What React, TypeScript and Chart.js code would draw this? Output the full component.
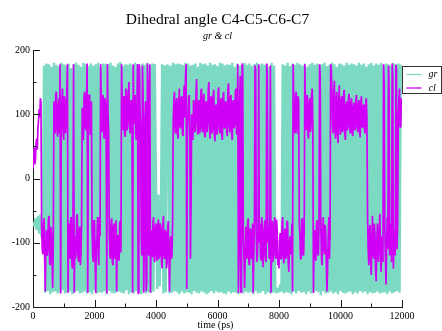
import { useEffect, useRef } from "react";
import { Chart, registerables } from "chart.js";

Chart.register(...registerables);

const TITLE = "Dihedral angle C4-C5-C6-C7";
const SUBTITLE = "gr & cl";
const X_LABEL = "time (ps)";
const SERIES_NAMES = ["gr", "cl"];
const GR_STEP_PS = 40;
const CL_STEP_PS = 20;
const X_MAJOR_TICKS = [0, 2000, 4000, 6000, 8000, 10000, 12000];
const X_MINOR_TICKS = [1000, 3000, 5000, 7000, 9000, 11000];
const Y_MAJOR_TICKS = [-200, -100, 0, 100, 200];
const Y_MINOR_TICKS = [-150, -50, 50, 150];

// dihedral angle (deg) of set "gr", one value every 40 ps
const grAngle = [
  -68, -74, -62, -80, -58, -86, -56, -92, -60, 176, -178, 179, -175, 178, -180, 174, -177, 180, -176, 177,
  -179, 175, -177, 180, -174, 178, -179, 176, -178, 179, -176, 172, -180, 178, -177, 180, -175, 177, -179, 174,
  -178, 180, -176, 178, -179, 175, -177, 179, -180, 176, -174, 178, -179, 180, -177, 173, -178, 179, -176, 177,
  -180, 178, -175, 180, -178, 176, -179, 174, -177, 179, -176, 180, -178, 175, -179, 178, -174, 177, -180, 179,
  -177, 176, -179, 180, -175, 178, -178, 174, -180, 179, -176, 177, -179, 180, -177, 175, -178, 179, -176, 178,
  -15, -172, -25, -168, -55, 178, -179, 176, -177, 177, 174, -179, 176, -178, 180, -175, 178, -177, 179, -180,
  178, -176, 175, -179, 180, -177, 179, -178, 176, -180, 177, -175, 179, -178, 174, -179, 180, -176, 178, -177,
  179, -180, 176, -178, 180, -175, 177, -179, 178, -176, 175, -178, 180, -177, 179, -179, 176, -180, 178, -176,
  177, -179, 180, -177, 174, -178, 179, -180, 176, -175, 178, -179, 180, -176, 177, -178, 179, -177, 175, -180,
  178, -176, 180, -179, 176, -178, 179, -175, 177, -180, 178, -177, 174, -179, 180, -178, 176, -174, -178, -170,
  -177, -165, -176, 178, -179, 176, -177, 180, -178, 175, -180, 179, -176, 177, -179, 180, -175, 178, -178, 176,
  -177, 179, -180, 174, -176, 178, -179, 180, -178, 177, -175, 179, -177, 176, -180, 178, -176, 180, -179, 175,
  -178, 177, -176, 180, -179, 178, -177, 174, -180, 179, -175, 178, -178, 176, -179, 180, -177, 177, -176, 179,
  -180, 178, -177, 176, -179, 180, -175, 177, -178, 179, -176, 174, -180, 178, -177, 180, -179, 176, -178, 179,
  -176, 177, -179, 180, -178, 175, -177, 179, -180, 178, -176, 176, -179, 180, -177, 178, -175, 179, -178, 177,
];

// dihedral angle (deg) of set "cl", one value every 20 ps
const clAngle = [
  15, 35, 48, 22, 30, 55, 62, 45, 78, 90, 108, 95, 125, 118, -75, -110, -118, -70, -62, -125,
  -176, -95, -80, -120, -110, -65, -58, -130, -135, -75, -85, -125, -170, -100, 120, 80, 70, 130, 135, 75,
  65, 110, 125, 70, 178, -179, 80, 120, 140, 75, 60, 128, 118, 70, 95, 135, 178, -178, -70, -115,
  -125, -68, -60, -130, -140, -85, 178, -178, -90, -125, -115, -62, -55, -120, -130, -80, -75, -135, -120, -70,
  110, 72, 60, 128, 135, 80, 75, 122, 179, -178, 90, 130, 130, 70, 68, 120, -72, -118, -130, -66,
  -65, -125, -178, -100, -95, -60, -120, -135, -60, -90, 178, 120, 72, 130, 128, 65, 62, 125, 118, 70,
  -179, 178, 100, 70, -80, -120, -125, -68, -62, -130, -135, -75, -70, -125, -118, -65, -176, -100, -88, -122,
  -128, -70, -66, -115, 178, 120, 75, 125, 128, 68, 65, 140, 135, 75, 80, 130, 150, 90, 70, 118,
  122, 75, -178, 178, 85, 125, 130, 70, 60, 115, 178, -179, -179, 178, 110, 80, -90, -120, 176, 130,
  -178, -100, 95, 120, -175, -160, 179, 150, -120, -90, 178, -178, -80, -120, -122, -70, -60, -125, -130, -75,
  -70, -118, -128, -72, -64, -125, -118, -70, -78, -130, -140, -75, -58, -118, -125, -80, -85, -140, -132, -75,
  -66, -120, -176, -110, -90, -125, -120, -70, 90, 120, 135, 75, 70, 118, 125, 68, 62, 120, 140, 85,
  78, 125, 128, 70, 66, 130, 145, 95, 160, 178, -172, 60, 95, 125, 130, 80, -125, -40, 100, 70,
  60, 122, 118, 72, 75, 130, 155, 90, 68, 118, 122, 70, 80, 135, 140, 75, 72, 125, 132, 68,
  64, 118, 120, 72, 85, 140, 150, 80, 62, 125, 128, 70, 76, 132, 138, 66, 58, 112, 115, 68,
  82, 135, 142, 75, 70, 120, 125, 66, 60, 128, 135, 80, 78, 120, 118, 72, 66, 140, 148, 85,
  72, 125, 130, 70, 60, 118, 122, 78, 85, 135, 140, 72, 68, 178, -178, -120, 120, 160, -176, -178,
  179, 175, -90, -120, -170, -130, -75, -118, -125, -68, -62, -130, -135, -78, -80, -125, -118, -70, -178, -120,
  -70, 176, 170, -85, -130, -120, -70, 178, -100, -70, -120, -128, -60, -75, -138, -120, -82, -65, -120, -130,
  179, 160, -100, -75, -125, -118, 176, -178, -90, -66, -130, -122, -72, -60, -118, -125, -64, -80, -135, -118,
  -140, -95, -85, -125, -125, -70, -60, -120, -132, -85, -78, -125, -120, -66, -68, -130, -145, -100, -90, -118,
  -115, -70, -176, 178, 120, 80, 70, 130, 135, 78, 70, 128, 120, -70, -90, -125, -125, -65, -62, -118,
  -120, -80, 178, 110, 75, 125, 130, 70, 62, 118, 125, 72, 80, 130, 140, 90, -178, -100, -80, -120,
  -128, -70, -65, -115, -120, -80, 178, 160, -75, -120, -135, -78, -60, -110, -118, -72, -85, -130, -176, -140,
  -95, -60, -125, -90, 178, 170, 140, 85, 70, 130, 152, 75, 62, 125, 135, 70, 55, 118, 145, 80,
  68, 120, 128, 72, 75, 130, 138, 70, 60, 112, 120, 75, 82, 125, 132, 78, 70, 118, 125, 72,
  66, 112, 118, 75, 78, 122, 130, 82, 72, 115, 122, 74, 64, 118, 128, 80, 80, 112, 115, 74,
  70, 118, 125, 90, -60, -110, -135, -80, -72, -125, -150, -95, -58, -112, -125, -70, -85, -140, -160, -100,
  -70, -118, -130, -80, -55, -110, -145, -95, -90, -130, 178, 150, -75, -120, -165, -100, -60, -110, 176, 140,
  -120, -80, -70, -130, 179, 160, -140, -95, -80, -120, 177, 170, -110, -70, 95, 125, 140, 80, 80, 125,
];

const grTimePs = grAngle.map((_, i) => i * GR_STEP_PS);
const clTimePs = clAngle.map((_, i) => i * CL_STEP_PS);

const GR_COLOR = "rgb(124,218,194)";
const CL_COLOR = "rgb(208,0,246)";
const AXIS_COLOR = "#1a1a1a";
const FONT = "'Liberation Serif', 'Times New Roman', serif";

const decorPlugin = {
  id: "grace-decor",
  afterDraw(chart: any) {
    const { ctx, chartArea: a, scales } = chart;
    const xs = scales.x;
    const ys = scales.y;
    ctx.save();
    ctx.strokeStyle = AXIS_COLOR;
    ctx.lineWidth = 1;
    ctx.beginPath();
    const xTick = (v: number, len: number) => {
      const px = Math.round(xs.getPixelForValue(v)) + 0.5;
      ctx.moveTo(px, a.bottom);
      ctx.lineTo(px, a.bottom - len);
    };
    const yTick = (v: number, len: number) => {
      const py = Math.round(ys.getPixelForValue(v)) + 0.5;
      ctx.moveTo(a.left, py);
      ctx.lineTo(a.left + len, py);
    };
    X_MAJOR_TICKS.forEach((v) => xTick(v, 7));
    X_MINOR_TICKS.forEach((v) => xTick(v, 3.5));
    Y_MAJOR_TICKS.forEach((v) => yTick(v, 7));
    Y_MINOR_TICKS.forEach((v) => yTick(v, 3.5));
    ctx.stroke();

    const cx = (a.left + a.right) / 2;
    ctx.fillStyle = "#000";
    ctx.textAlign = "center";
    ctx.textBaseline = "alphabetic";
    ctx.font = `15.5px ${FONT}`;
    ctx.fillText(TITLE, cx, 24);
    ctx.font = `italic 10px ${FONT}`;
    ctx.fillText(SUBTITLE, cx, 39);
    ctx.font = `10px ${FONT}`;
    ctx.fillText(X_LABEL, cx - 2, 328);

    // legend box
    const lx = a.right + 0.5;
    const ly = 66.5;
    ctx.strokeStyle = "#333";
    ctx.lineWidth = 1;
    ctx.strokeRect(lx, ly, 39, 27);
    const colors = [GR_COLOR, CL_COLOR];
    ctx.textAlign = "left";
    ctx.textBaseline = "middle";
    ctx.font = `italic 10px ${FONT}`;
    SERIES_NAMES.forEach((name, i) => {
      const yy = ly + 8 + i * 13.5;
      ctx.strokeStyle = colors[i];
      ctx.lineWidth = 1.3;
      ctx.beginPath();
      ctx.moveTo(lx + 4, yy);
      ctx.lineTo(lx + 19, yy);
      ctx.stroke();
      ctx.fillStyle = "#000";
      ctx.fillText(name, lx + 26, yy);
    });
    ctx.restore();
  },
};

export default function App() {
  const ref = useRef<HTMLCanvasElement | null>(null);
  useEffect(() => {
    if (!ref.current) return;
    const chart = new Chart(ref.current, {
      type: "line",
      data: {
        datasets: [
          {
            label: SERIES_NAMES[0],
            data: grAngle.map((v, i) => ({ x: grTimePs[i], y: v })),
            borderColor: GR_COLOR,
            borderWidth: 2.4,
            pointRadius: 0,
            tension: 0.0001,
            borderJoinStyle: "bevel",
            order: 2,
          },
          {
            label: SERIES_NAMES[1],
            data: clAngle.map((v, i) => ({ x: clTimePs[i], y: v })),
            borderColor: CL_COLOR,
            borderWidth: 1.7,
            pointRadius: 0,
            tension: 0.0001,
            borderJoinStyle: "bevel",
            order: 1,
          },
        ],
      },
      options: {
        animation: false,
        responsive: false,
        devicePixelRatio: 1,
        events: [],
        layout: { padding: { top: 50, right: 40, left: 0, bottom: 0 } },
        plugins: {
          legend: { display: false },
          tooltip: { enabled: false },
          title: { display: false },
        },
        scales: {
          x: {
            type: "linear",
            min: 0,
            max: 12000,
            afterFit: (s: any) => {
              s.height = 24;
            },
            grid: { display: false, drawTicks: false },
            border: { display: true, color: AXIS_COLOR, width: 1 },
            ticks: {
              stepSize: 2000,
              autoSkip: false,
              maxRotation: 0,
              padding: 3,
              color: "#000",
              font: { family: FONT, size: 10 },
              callback: (v: any) => String(v),
            },
          },
          y: {
            type: "linear",
            min: -200,
            max: 200,
            afterFit: (s: any) => {
              s.width = 33;
            },
            grid: { display: false, drawTicks: false },
            border: { display: true, color: AXIS_COLOR, width: 1 },
            ticks: {
              stepSize: 100,
              autoSkip: false,
              padding: 3,
              color: "#000",
              font: { family: FONT, size: 10 },
              callback: (v: any) => String(v),
            },
          },
        },
      },
      plugins: [decorPlugin],
    });
    return () => chart.destroy();
  }, []);

  return (
    <div
      style={{
        position: "fixed",
        left: 0,
        top: 0,
        width: 442,
        height: 331,
        background: "#fff",
      }}
    >
      <canvas ref={ref} width={442} height={331} style={{ display: "block" }} />
    </div>
  );
}
